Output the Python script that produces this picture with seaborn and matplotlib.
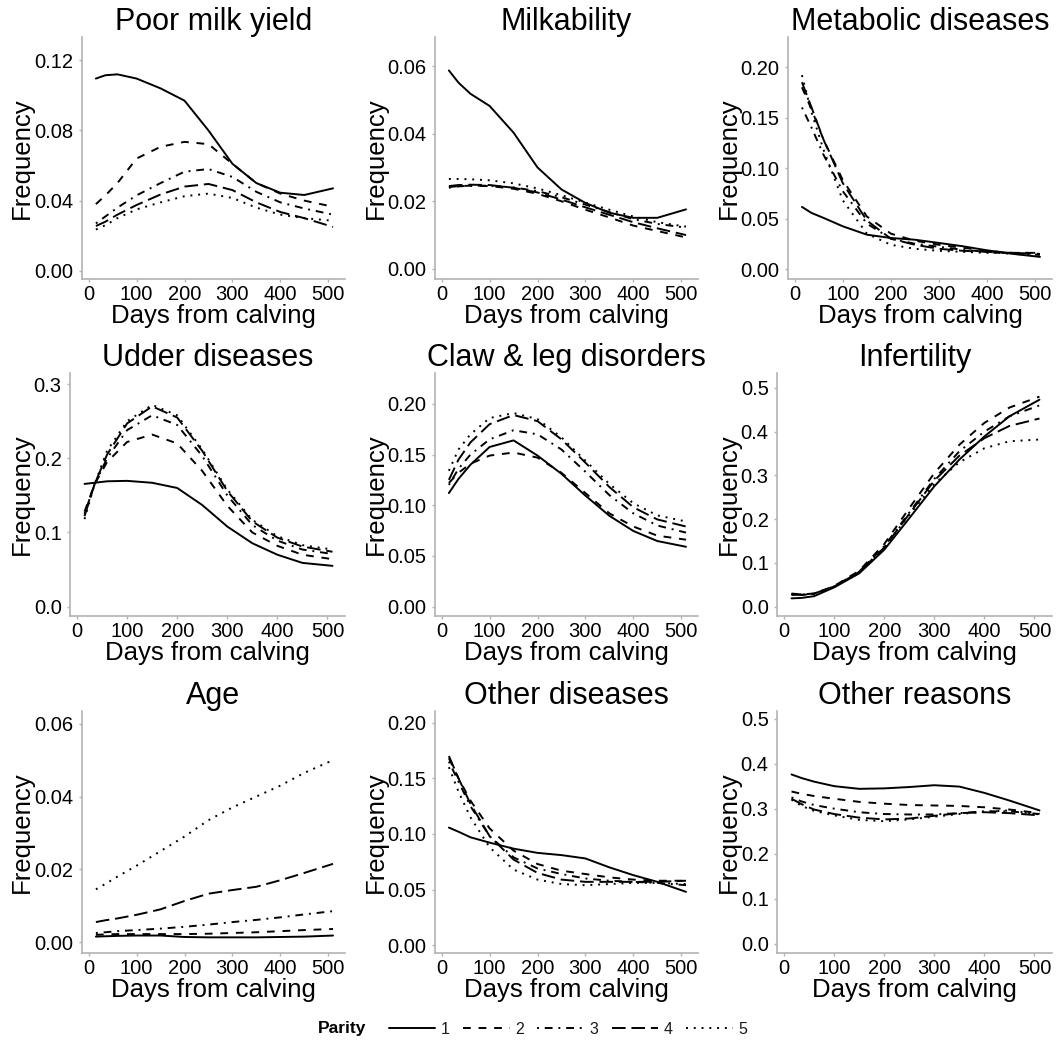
import numpy as np
import pandas as pd
import matplotlib
matplotlib.use("Agg")
import matplotlib.pyplot as plt
import seaborn as sns

sns.set_theme(style="white")
plt.rcParams['font.family'] = ['Liberation Sans', 'DejaVu Sans']
plt.rcParams['text.color'] = 'black'

# ---------------- data ----------------
days = [15, 35, 60, 100, 150, 200, 250, 300, 350, 400, 450, 510]
parities = ["1", "2", "3", "4", "5"]

titles = ["Poor milk yield", "Milkability", "Metabolic diseases",
          "Udder diseases", "Claw & leg disorders", "Infertility",
          "Age", "Other diseases", "Other reasons"]

poor_milk = {
    "1": [0.1096, 0.1115, 0.112, 0.1096, 0.104, 0.097, 0.080, 0.061, 0.050, 0.0445, 0.0432, 0.047],
    "2": [0.038, 0.043, 0.050, 0.064, 0.0707, 0.0735, 0.0722, 0.061, 0.050, 0.044, 0.040, 0.0365],
    "3": [0.027, 0.031, 0.036, 0.043, 0.050, 0.0565, 0.058, 0.0535, 0.045, 0.039, 0.0355, 0.032],
    "4": [0.0255, 0.028, 0.032, 0.0375, 0.0435, 0.048, 0.0495, 0.046, 0.039, 0.0335, 0.030, 0.025],
    "5": [0.0235, 0.026, 0.030, 0.035, 0.039, 0.0425, 0.044, 0.0415, 0.036, 0.032, 0.030, 0.0285],
}
milkability = {
    "1": [0.0587, 0.0551, 0.0518, 0.0482, 0.0403, 0.030, 0.0235, 0.0195, 0.0166, 0.0151, 0.0151, 0.0176],
    "2": [0.0242, 0.0245, 0.0246, 0.0245, 0.0237, 0.0222, 0.0200, 0.0175, 0.0152, 0.0128, 0.0112, 0.0093],
    "3": [0.0240, 0.0244, 0.0246, 0.0246, 0.0241, 0.0230, 0.0212, 0.0190, 0.0168, 0.0147, 0.0133, 0.0122],
    "4": [0.0245, 0.0248, 0.0249, 0.0248, 0.0240, 0.0226, 0.0205, 0.0182, 0.0160, 0.0138, 0.0120, 0.0100],
    "5": [0.0266, 0.0266, 0.0265, 0.0262, 0.0253, 0.0238, 0.0218, 0.0196, 0.0175, 0.0155, 0.0138, 0.0125],
}
metabolic = {
    "1": [0.0615, 0.0555, 0.0506, 0.0423, 0.034, 0.0307, 0.029, 0.0258, 0.0225, 0.0185, 0.0152, 0.012],
    "2": [0.180, 0.158, 0.128, 0.088, 0.052, 0.035, 0.028, 0.024, 0.021, 0.018, 0.016, 0.016],
    "3": [0.160, 0.140, 0.113, 0.077, 0.045, 0.030, 0.025, 0.022, 0.019, 0.017, 0.015, 0.014],
    "4": [0.185, 0.160, 0.128, 0.085, 0.048, 0.030, 0.024, 0.020, 0.018, 0.017, 0.016, 0.015],
    "5": [0.192, 0.155, 0.118, 0.068, 0.035, 0.024, 0.020, 0.018, 0.017, 0.016, 0.016, 0.016],
}
udder = {
    "1": [0.1655, 0.167, 0.169, 0.1696, 0.167, 0.160, 0.137, 0.108, 0.0855, 0.070, 0.059, 0.055],
    "2": [0.128, 0.165, 0.195, 0.222, 0.232, 0.220, 0.183, 0.136, 0.100, 0.082, 0.070, 0.064],
    "3": [0.125, 0.165, 0.200, 0.238, 0.258, 0.245, 0.203, 0.150, 0.110, 0.089, 0.077, 0.071],
    "4": [0.122, 0.165, 0.205, 0.247, 0.270, 0.255, 0.210, 0.156, 0.115, 0.093, 0.081, 0.074],
    "5": [0.118, 0.165, 0.210, 0.250, 0.272, 0.258, 0.212, 0.158, 0.117, 0.095, 0.083, 0.077],
}
claw = {
    "1": [0.112, 0.126, 0.140, 0.1575, 0.164, 0.149, 0.131, 0.1095, 0.0896, 0.0746, 0.0647, 0.059],
    "2": [0.122, 0.132, 0.141, 0.149, 0.152, 0.147, 0.132, 0.112, 0.092, 0.079, 0.070, 0.066],
    "3": [0.120, 0.136, 0.150, 0.165, 0.174, 0.170, 0.155, 0.133, 0.110, 0.092, 0.080, 0.073],
    "4": [0.125, 0.145, 0.162, 0.180, 0.189, 0.183, 0.165, 0.142, 0.118, 0.098, 0.086, 0.079],
    "5": [0.134, 0.155, 0.170, 0.186, 0.191, 0.185, 0.167, 0.144, 0.121, 0.102, 0.090, 0.084],
}
infertility = {
    "1": [0.019, 0.020, 0.024, 0.044, 0.076, 0.130, 0.202, 0.275, 0.336, 0.389, 0.435, 0.473],
    "2": [0.030, 0.028, 0.030, 0.047, 0.082, 0.143, 0.225, 0.305, 0.370, 0.420, 0.455, 0.480],
    "3": [0.028, 0.027, 0.029, 0.046, 0.080, 0.138, 0.215, 0.292, 0.355, 0.400, 0.435, 0.460],
    "4": [0.027, 0.027, 0.030, 0.046, 0.079, 0.135, 0.212, 0.288, 0.345, 0.385, 0.413, 0.430],
    "5": [0.029, 0.028, 0.030, 0.046, 0.079, 0.135, 0.210, 0.280, 0.330, 0.362, 0.378, 0.382],
}
age = {
    "1": [0.0015, 0.0016, 0.0017, 0.0018, 0.0018, 0.0014, 0.0013, 0.0013, 0.0013, 0.0014, 0.0015, 0.0018],
    "2": [0.0020, 0.0021, 0.0022, 0.0022, 0.0022, 0.0022, 0.0023, 0.0025, 0.0027, 0.0030, 0.0033, 0.0036],
    "3": [0.0025, 0.0027, 0.0030, 0.0033, 0.0037, 0.0042, 0.0048, 0.0055, 0.0061, 0.0068, 0.0076, 0.0085],
    "4": [0.0055, 0.0060, 0.0065, 0.0075, 0.0090, 0.0113, 0.0133, 0.0143, 0.0152, 0.0170, 0.0190, 0.0215],
    "5": [0.0145, 0.0160, 0.0180, 0.0210, 0.0250, 0.0290, 0.0335, 0.0370, 0.0400, 0.0430, 0.0465, 0.0500],
}
other_dis = {
    "1": [0.1057, 0.102, 0.097, 0.0922, 0.0868, 0.083, 0.081, 0.078, 0.070, 0.063, 0.057, 0.048],
    "2": [0.168, 0.150, 0.130, 0.105, 0.085, 0.073, 0.067, 0.064, 0.061, 0.059, 0.058, 0.058],
    "3": [0.165, 0.147, 0.125, 0.098, 0.079, 0.069, 0.064, 0.060, 0.058, 0.057, 0.056, 0.054],
    "4": [0.170, 0.150, 0.127, 0.098, 0.077, 0.065, 0.059, 0.057, 0.057, 0.057, 0.057, 0.058],
    "5": [0.160, 0.138, 0.115, 0.088, 0.068, 0.059, 0.055, 0.054, 0.055, 0.056, 0.056, 0.055],
}
other_rea = {
    "1": [0.376, 0.368, 0.360, 0.350, 0.344, 0.345, 0.348, 0.352, 0.349, 0.335, 0.318, 0.296],
    "2": [0.338, 0.333, 0.328, 0.322, 0.315, 0.311, 0.308, 0.307, 0.306, 0.303, 0.298, 0.290],
    "3": [0.325, 0.316, 0.308, 0.300, 0.292, 0.288, 0.287, 0.287, 0.290, 0.294, 0.294, 0.288],
    "4": [0.322, 0.310, 0.298, 0.288, 0.280, 0.276, 0.278, 0.284, 0.290, 0.292, 0.290, 0.285],
    "5": [0.320, 0.306, 0.295, 0.285, 0.275, 0.272, 0.276, 0.282, 0.288, 0.293, 0.296, 0.287],
}
panel_data = [poor_milk, milkability, metabolic, udder, claw, infertility,
              age, other_dis, other_rea]

ytick_labels = [
    ["0.00", "0.04", "0.08", "0.12"],
    ["0.00", "0.02", "0.04", "0.06"],
    ["0.00", "0.05", "0.10", "0.15", "0.20"],
    ["0.0", "0.1", "0.2", "0.3"],
    ["0.00", "0.05", "0.10", "0.15", "0.20"],
    ["0.0", "0.1", "0.2", "0.3", "0.4", "0.5"],
    ["0.00", "0.02", "0.04", "0.06"],
    ["0.00", "0.05", "0.10", "0.15", "0.20"],
    ["0.0", "0.1", "0.2", "0.3", "0.4", "0.5"],
]
xtick_values = [0, 100, 200, 300, 400, 500]

# ---------------- layout / style ----------------
W, H = 1057, 1041
fig = plt.figure(figsize=(W / 100, H / 100), dpi=100)

ylims = [(-0.0047, 0.1333), (-0.003, 0.0686), (-0.0099, 0.2298),
         (-0.0126, 0.315), (-0.0093, 0.2305), (-0.0213, 0.534),
         (-0.003, 0.0635), (-0.0069, 0.2104), (-0.0209, 0.517)]
rows_px = [(37, 279), (373, 616), (711, 953)]
cols_px = [
    [(82, 345), (435, 698), (788, 1052)],
    [(70, 345), (435, 698), (777, 1052)],
    [(82, 345), (435, 698), (777, 1052)],
]
ylabel_right_px = [34, 388, 741]

dash_map = {"1": "", "2": (4, 4), "3": (1, 3, 4, 3), "4": (7, 3), "5": (1, 3)}
spine_col = "#b3b3b3"

handles = labels = None
for i, (title, data) in enumerate(zip(titles, panel_data)):
    r, c = divmod(i, 3)
    top, bot = rows_px[r]
    left, right = cols_px[r][c]
    ax = fig.add_axes([left / W, 1 - bot / H, (right - left) / W, (bot - top) / H])
    df = pd.DataFrame([
        {"Days": d, "Frequency": v, "Parity": p}
        for p in parities for d, v in zip(days, data[p])
    ])
    sns.lineplot(data=df, x="Days", y="Frequency", style="Parity",
                 style_order=parities, dashes=dash_map, color="black",
                 linewidth=1.4, estimator=None, sort=False, ax=ax,
                 legend=(i == 0))
    if i == 0:
        handles, labels = ax.get_legend_handles_labels()
        ax.get_legend().remove()
    ax.set_xlim(-14, 535)
    ax.set_ylim(*ylims[i])
    ax.set_xticks(xtick_values)
    ax.set_xticklabels([str(v) for v in xtick_values])
    yt = [float(s) for s in ytick_labels[i]]
    ax.set_yticks(yt)
    ax.set_yticklabels(ytick_labels[i])
    for s in ["top", "right"]:
        ax.spines[s].set_visible(False)
    for s in ["left", "bottom"]:
        ax.spines[s].set_color(spine_col)
        ax.spines[s].set_linewidth(1.2)
    ax.tick_params(axis="both", which="both", length=2.5, width=1.0,
                   color=spine_col, labelsize=14.5, labelcolor="black",
                   left=True, bottom=True)
    ax.tick_params(axis="y", pad=3.5)
    ax.tick_params(axis="x", pad=2)
    ax.set_title(title, fontsize=22, pad=3, color="black")
    ax.set_xlabel("Days from calving", fontsize=18.5, labelpad=0, color="black")
    ax.set_ylabel("Frequency", fontsize=18.5, color="black")
    ax.yaxis.set_label_coords(ylabel_right_px[c] / W, 1 - (top + bot) / 2 / H,
                              transform=fig.transFigure)
    ax.grid(False)
    ax.set_facecolor("white")

fig.text(318 / W, 1 - 1029 / H, "Parity", fontsize=12.5, fontweight="bold",
         ha="left", va="center", color="black")
leg = fig.legend(handles, labels, loc="center", bbox_to_anchor=(568 / W, 1 - 1029 / H),
                 ncol=5, frameon=False, fontsize=11.5, handlelength=2.9,
                 handletextpad=0.35, columnspacing=0.85, borderpad=0, borderaxespad=0)
for t in leg.get_texts():
    t.set_color("#1a1a1a")

fig.savefig("out.png", dpi=100, facecolor="white")
